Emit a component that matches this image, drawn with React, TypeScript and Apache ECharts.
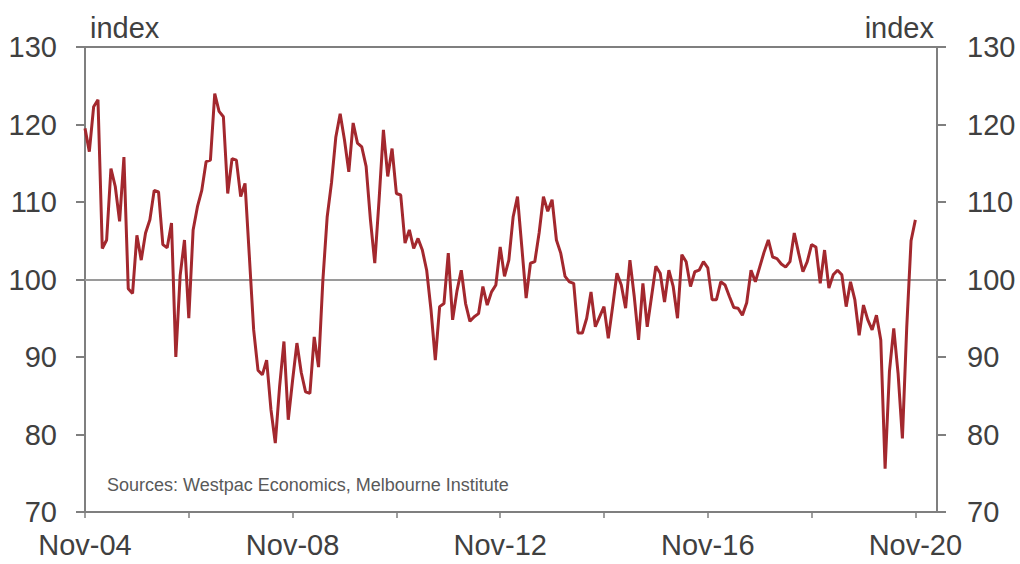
import React, { useEffect, useRef } from "react";
import * as echarts from "echarts";

// Month labels for the category axis (Nov-04 onward; the axis runs a few months past the last value)
const monthNames = ["Jan", "Feb", "Mar", "Apr", "May", "Jun", "Jul", "Aug", "Sep", "Oct", "Nov", "Dec"];
const firstYear = 2004;
const firstMonth = 10; // November
const axisMonths = 198;
const categories: string[] = [];
for (let i = 0; i < axisMonths; i++) {
  const mi = (firstMonth + i) % 12;
  const yr = firstYear + Math.floor((firstMonth + i) / 12);
  categories.push(`${monthNames[mi]}-${String(yr % 100).padStart(2, "0")}`);
}

// Consumer sentiment index, monthly, Nov-04 .. Nov-20
const sentiment: number[] = [
  119.5, 116.5, 122.3, 123.2, 104.0, 105.1, 114.3, 112.0, 107.5, 115.8, 98.8, 98.2,
  105.7, 102.5, 106.0, 107.7, 111.5, 111.3, 104.5, 104.1, 107.3, 90.0, 100.5, 105.1,
  95.0, 106.4, 109.4, 111.5, 115.2, 115.4, 124.0, 121.7, 121.0, 111.1, 115.6, 115.4,
  110.7, 112.4, 103.0, 93.5, 88.3, 87.7, 89.6, 83.2, 78.9, 86.2, 92.0, 81.9,
  87.0, 91.8, 88.0, 85.5, 85.3, 92.6, 88.7, 99.9, 108.1, 112.5, 118.4, 121.4,
  118.0, 113.9, 120.2, 117.6, 117.1, 114.6, 107.7, 102.1, 110.3, 119.3, 113.3, 116.9,
  111.1, 110.9, 104.7, 106.4, 104.0, 105.3, 103.8, 101.2, 96.1, 89.6, 96.5, 96.9,
  103.4, 94.8, 98.5, 101.2, 96.9, 94.6, 95.2, 95.6, 99.1, 96.7, 98.4, 99.3,
  104.2, 100.4, 102.5, 108.1, 110.7, 104.2, 97.6, 102.1, 102.3, 106.0, 110.7, 108.8,
  110.3, 105.1, 103.4, 100.4, 99.7, 99.5, 93.1, 93.1, 95.0, 98.4, 93.9, 95.2,
  96.5, 92.4, 96.5, 100.8, 99.3, 96.3, 102.5, 97.8, 92.2, 99.5, 93.9, 97.8,
  101.7, 100.8, 97.1, 101.2, 99.1, 95.0, 103.2, 102.3, 99.1, 101.0, 101.2, 102.3,
  101.5, 97.4, 97.4, 99.7, 99.3, 97.8, 96.4, 96.3, 95.4, 97.0, 101.2, 99.7,
  101.6, 103.5, 105.1, 102.9, 102.7, 102.0, 101.6, 102.3, 106.0, 103.4, 101.0, 102.3,
  104.5, 104.2, 99.5, 103.8, 98.9, 100.6, 101.2, 100.6, 96.5, 99.7, 97.4, 92.8,
  96.7, 94.8, 93.5, 95.4, 92.2, 75.6, 88.1, 93.7, 87.9, 79.5, 93.8, 105.0,
  107.7,
];

const yMin = 70;
const yMax = 130;
const yStep = 10;
const referenceLevel = 100;
const unitLabel = "index";
const sourceNote = "Sources: Westpac Economics, Melbourne Institute";

const FONT = "'Liberation Sans', Arial, Helvetica, sans-serif";
const AXIS_GRAY = "#7f7f7f";
const LABEL_COLOR = "#404040";

export default function App() {
  const ref = useRef<HTMLDivElement>(null);

  useEffect(() => {
    if (!ref.current) return;
    const chart = echarts.init(ref.current, null, { renderer: "svg" });

    const yAxisCommon = {
      type: "value" as const,
      min: yMin,
      max: yMax,
      interval: yStep,
      splitLine: { show: false },
      axisLine: { show: true, lineStyle: { color: AXIS_GRAY, width: 2 } },
      axisTick: { show: true, inside: false, length: 9, lineStyle: { color: AXIS_GRAY, width: 2 } },
    };

    chart.setOption({
      animation: false,
      backgroundColor: "#ffffff",
      grid: {
        left: 85,
        right: 83,
        top: 47,
        bottom: 52,
        show: true,
        borderColor: AXIS_GRAY,
        borderWidth: 2,
        backgroundColor: "transparent",
      },
      xAxis: {
        type: "category",
        data: categories,
        boundaryGap: false,
        axisLine: { show: true, onZero: false, lineStyle: { color: AXIS_GRAY, width: 2 } },
        axisTick: {
          show: true,
          length: 6,
          interval: (index: number) => index % 24 === 0,
          lineStyle: { color: AXIS_GRAY, width: 1.5 },
        },
        axisLabel: {
          interval: (index: number) => index % 48 === 0,
          color: LABEL_COLOR,
          fontFamily: FONT,
          fontSize: 29,
          margin: 18,
        },
        splitLine: { show: false },
      },
      yAxis: [
        {
          ...yAxisCommon,
          position: "left",
          axisLabel: { color: LABEL_COLOR, fontFamily: FONT, fontSize: 29, margin: 28 },
        },
        {
          ...yAxisCommon,
          position: "right",
          axisLabel: { color: LABEL_COLOR, fontFamily: FONT, fontSize: 29, margin: 30 },
        },
      ],
      series: [
        {
          type: "line",
          data: sentiment,
          yAxisIndex: 0,
          symbol: "none",
          smooth: false,
          lineStyle: { color: "#a3282e", width: 3 },
          z: 3,
          markLine: {
            silent: true,
            symbol: "none",
            label: { show: false },
            lineStyle: { color: "#9a9a9a", width: 2, type: "solid" },
            data: [{ yAxis: referenceLevel }],
            z: 1,
          },
        },
      ],
      graphic: [
        {
          type: "text",
          left: 90,
          top: 13,
          style: { text: unitLabel, fontFamily: FONT, fontSize: 29, fill: LABEL_COLOR },
        },
        {
          type: "text",
          right: 1020 - 934,
          top: 13,
          style: { text: unitLabel, fontFamily: FONT, fontSize: 29, fill: LABEL_COLOR },
        },
        {
          type: "text",
          left: 107,
          top: 476,
          style: { text: sourceNote, fontFamily: FONT, fontSize: 18, fill: "#595959" },
        },
      ],
    });

    return () => chart.dispose();
  }, []);

  return (
    <div
      ref={ref}
      style={{ position: "fixed", left: 0, top: 0, width: 1020, height: 564, background: "#fff" }}
    />
  );
}
